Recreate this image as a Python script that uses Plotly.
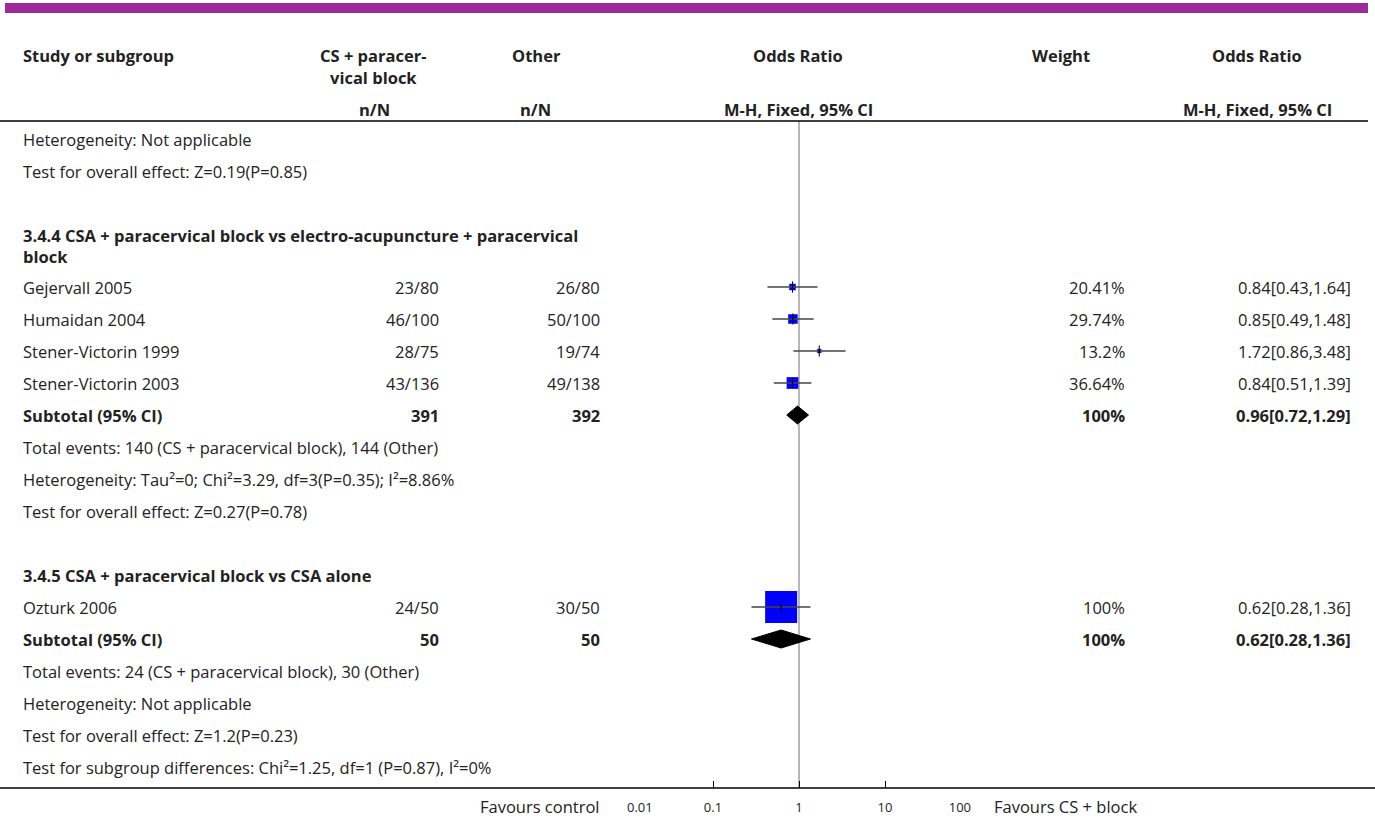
import plotly.graph_objects as go

W, H = 1375, 819
FONT = "Open Sans"
FS = 16.5
TXT = "#222222"

# ---------------- data ----------------
top_notes = ["Heterogeneity: Not applicable",
             "Test for overall effect: Z=0.19(P=0.85)"]

g1_title = "3.4.4 CSA + paracervical block vs electro-acupuncture + paracervical<br>block"
g1_studies = ["Gejervall 2005", "Humaidan 2004", "Stener-Victorin 1999", "Stener-Victorin 2003"]
g1_exp = ["23/80", "46/100", "28/75", "43/136"]
g1_ctl = ["26/80", "50/100", "19/74", "49/138"]
g1_or = [0.84, 0.85, 1.72, 0.84]
g1_lo = [0.43, 0.49, 0.86, 0.51]
g1_hi = [1.64, 1.48, 3.48, 1.39]
g1_w = [20.41, 29.74, 13.2, 36.64]
g1_sub_n = ["391", "392"]
g1_sub_w = 100
g1_sub_ci = [0.96, 0.72, 1.29]
g1_notes = ["Total events: 140 (CS + paracervical block), 144 (Other)",
            "Heterogeneity: Tau\u00b2=0; Chi\u00b2=3.29, df=3(P=0.35); I\u00b2=8.86%",
            "Test for overall effect: Z=0.27(P=0.78)"]

g2_title = "3.4.5 CSA + paracervical block vs CSA alone"
g2_studies = ["Ozturk 2006"]
g2_exp = ["24/50"]
g2_ctl = ["30/50"]
g2_or = [0.62]
g2_lo = [0.28]
g2_hi = [1.36]
g2_w = [100]
g2_sub_n = ["50", "50"]
g2_sub_w = 100
g2_sub_ci = [0.62, 0.28, 1.36]
g2_notes = ["Total events: 24 (CS + paracervical block), 30 (Other)",
            "Heterogeneity: Not applicable",
            "Test for overall effect: Z=1.2(P=0.23)",
            "Test for subgroup differences: Chi\u00b2=1.25, df=1 (P=0.87), I\u00b2=0%"]

tick_vals = [0.01, 0.1, 1, 10, 100]
tick_text = ["0.01", "0.1", "1", "10", "100"]
fav_left = "Favours control"
fav_right = "Favours CS + block"

# ---------------- layout constants ----------------
Y0, STEP, TITLE_EXTRA = 139, 32, 20
X_LABEL, X_EXP, X_CTL, X_W, X_OR = 22, 440, 601, 1126, 1352
AX_L, AX_R, AX_Y = 627, 971, 788
HEADER_LINE_Y = 121

# build rows
rows = []
for n in top_notes:
    rows.append(("note", n))
rows.append(("blank", None))
for grp in [
    (g1_title, g1_studies, g1_exp, g1_ctl, g1_or, g1_lo, g1_hi, g1_w, g1_sub_n, g1_sub_w, g1_sub_ci, g1_notes),
    (g2_title, g2_studies, g2_exp, g2_ctl, g2_or, g2_lo, g2_hi, g2_w, g2_sub_n, g2_sub_w, g2_sub_ci, g2_notes),
]:
    title, st, ex, ct, orr, lo, hi, w, sn, sw, sci, notes = grp
    rows.append(("title", title))
    for i in range(len(st)):
        rows.append(("study", (st[i], ex[i], ct[i], orr[i], lo[i], hi[i], w[i])))
    rows.append(("subtotal", (sn, sw, sci)))
    for n in notes:
        rows.append(("note", n))
    rows.append(("blank", None))
rows = rows[:-1]

fig = go.Figure()
ann = []
shapes = []


def px(x):
    return x / W


def text(x, y, s, anchor="left", bold=False, size=FS, color=TXT):
    ann.append(dict(x=px(x), y=y, xref="paper", yref="y", text=f"<b>{s}</b>" if bold else s,
                    showarrow=False, xanchor=anchor, yanchor="middle", borderpad=0,
                    font=dict(family=FONT, size=size, color=color), align="left"))


y = Y0
sq_x, sq_y, sq_s = [], [], []
ci_x, ci_y = [], []
est_x, est_y = [], []
diamonds = []
for kind, val in rows:
    if kind == "note":
        text(X_LABEL, y, val)
        y += STEP
    elif kind == "blank":
        y += STEP
    elif kind == "title":
        if "<br>" in val:
            ann.append(dict(x=px(X_LABEL), y=y - 12, xref="paper", yref="y", text=f"<b>{val}</b>",
                            showarrow=False, xanchor="left", yanchor="top", align="left", borderpad=0,
                            font=dict(family=FONT, size=FS, color=TXT)))
            y += STEP + TITLE_EXTRA
        else:
            text(X_LABEL, y, val, bold=True)
            y += STEP
    elif kind == "study":
        name, e, c, o, l, h, w = val
        text(X_LABEL, y, name)
        text(X_EXP, y, e, anchor="right")
        text(X_CTL, y, c, anchor="right")
        text(X_W, y, f"{w:g}%", anchor="right")
        text(X_OR, y, f"{o:.2f}[{l:.2f},{h:.2f}]", anchor="right")
        sq_x.append(o); sq_y.append(y); sq_s.append(w * 0.32)
        ci_x += [l, h, None]; ci_y += [y, y, None]
        est_x.append(o); est_y.append(y)
        y += STEP
    elif kind == "subtotal":
        sn, sw, sci = val
        text(X_LABEL, y, "Subtotal (95% CI)", bold=True)
        text(X_EXP, y, sn[0], anchor="right", bold=True)
        text(X_CTL, y, sn[1], anchor="right", bold=True)
        text(X_W, y, f"{sw:g}%", anchor="right", bold=True)
        text(X_OR, y, f"{sci[0]:.2f}[{sci[1]:.2f},{sci[2]:.2f}]", anchor="right", bold=True)
        diamonds.append((sci, y))
        y += STEP

# reference line at OR = 1
shapes.append(dict(type="line", xref="x", yref="y", x0=1, x1=1, y0=HEADER_LINE_Y, y1=AX_Y,
                   line=dict(color="#a0a0a0", width=1.5), layer="below"))

# squares
fig.add_trace(go.Scatter(x=sq_x, y=sq_y, mode="markers",
                         marker=dict(symbol="square", size=sq_s, color="#0000ff", opacity=1,
                                     line=dict(width=0)),
                         hoverinfo="skip", showlegend=False))
# CI lines
fig.add_trace(go.Scatter(x=ci_x, y=ci_y, mode="lines", line=dict(color="#444444", width=1.5),
                         hoverinfo="skip", showlegend=False))
# estimate ticks
fig.add_trace(go.Scatter(x=est_x, y=est_y, mode="markers",
                         marker=dict(symbol="line-ns", size=8, opacity=1,
                                     line=dict(color="#000000", width=1)),
                         hoverinfo="skip", showlegend=False))
# diamonds
for (e, l, h), yy in diamonds:
    fig.add_trace(go.Scatter(x=[l, e, h, e, l], y=[yy, yy - 9, yy, yy + 9, yy], mode="lines",
                             fill="toself", fillcolor="#000000", line=dict(color="#000000", width=1),
                             hoverinfo="skip", showlegend=False))

# header texts
hdr_y1, hdr_y2, hdr_y3 = 55, 77, 109
text(X_LABEL, hdr_y1, "Study or subgroup", bold=True)
text(373, hdr_y1, "CS + paracer-", anchor="center", bold=True)
text(373, hdr_y2, "vical block", anchor="center", bold=True)
text(536, hdr_y1, "Other", anchor="center", bold=True)
text(374, hdr_y3, "n/N", anchor="center", bold=True)
text(535, hdr_y3, "n/N", anchor="center", bold=True)
text(798, hdr_y1, "Odds Ratio", anchor="center", bold=True)
text(798, hdr_y3, "M-H, Fixed, 95% CI", anchor="center", bold=True)
text(1061, hdr_y1, "Weight", anchor="center", bold=True)
text(1257, hdr_y1, "Odds Ratio", anchor="center", bold=True)
text(1257, hdr_y3, "M-H, Fixed, 95% CI", anchor="center", bold=True)

# favours labels
text(601, 806, fav_left, anchor="right")
text(993, 806, fav_right, anchor="left")

# top purple bar
shapes.append(dict(type="rect", xref="paper", yref="y", x0=px(5), x1=px(1368), y0=3, y1=13,
                   fillcolor="#9c2a99", line=dict(width=0)))
# header line
shapes.append(dict(type="line", xref="paper", yref="y", x0=0, x1=px(1368), y0=HEADER_LINE_Y,
                   y1=HEADER_LINE_Y, line=dict(color="#000000", width=1.5)))
# bottom axis line
shapes.append(dict(type="line", xref="paper", yref="y", x0=0, x1=1, y0=AX_Y, y1=AX_Y,
                   line=dict(color="#000000", width=1.5)))

# end tick labels sit inside the axis range (first left-aligned, last right-aligned)
FIG_SP, PUNC_SP = "\u2007", "\u2008"


def pad(s):
    return "".join(PUNC_SP if ch == "." else FIG_SP for ch in s)


tick_disp = list(tick_text)
tick_disp[0] = pad(tick_text[0]) + tick_text[0]
tick_disp[-1] = tick_text[-1] + pad(tick_text[-1])

fig.update_layout(
    template="none",
    width=W, height=H, margin=dict(l=0, r=0, t=0, b=0, pad=0, autoexpand=False),
    paper_bgcolor="white", plot_bgcolor="white",
    annotations=ann, shapes=shapes, showlegend=False,
    xaxis=dict(type="log", range=[-2, 2], domain=[px(AX_L), px(AX_R)], anchor="free",
               position=1 - AX_Y / H, showgrid=False, zeroline=False, showline=False,
               automargin=False,
               ticks="inside", ticklen=7, tickcolor="#000000", tickwidth=1,
               tickvals=tick_vals, ticktext=tick_disp, ticklabelstandoff=10,
               tickfont=dict(family=FONT, size=13, color=TXT)),
    yaxis=dict(range=[H, 0], domain=[0, 1], visible=False, showgrid=False, zeroline=False,
               automargin=False),
)

fig.write_html("out.html")
